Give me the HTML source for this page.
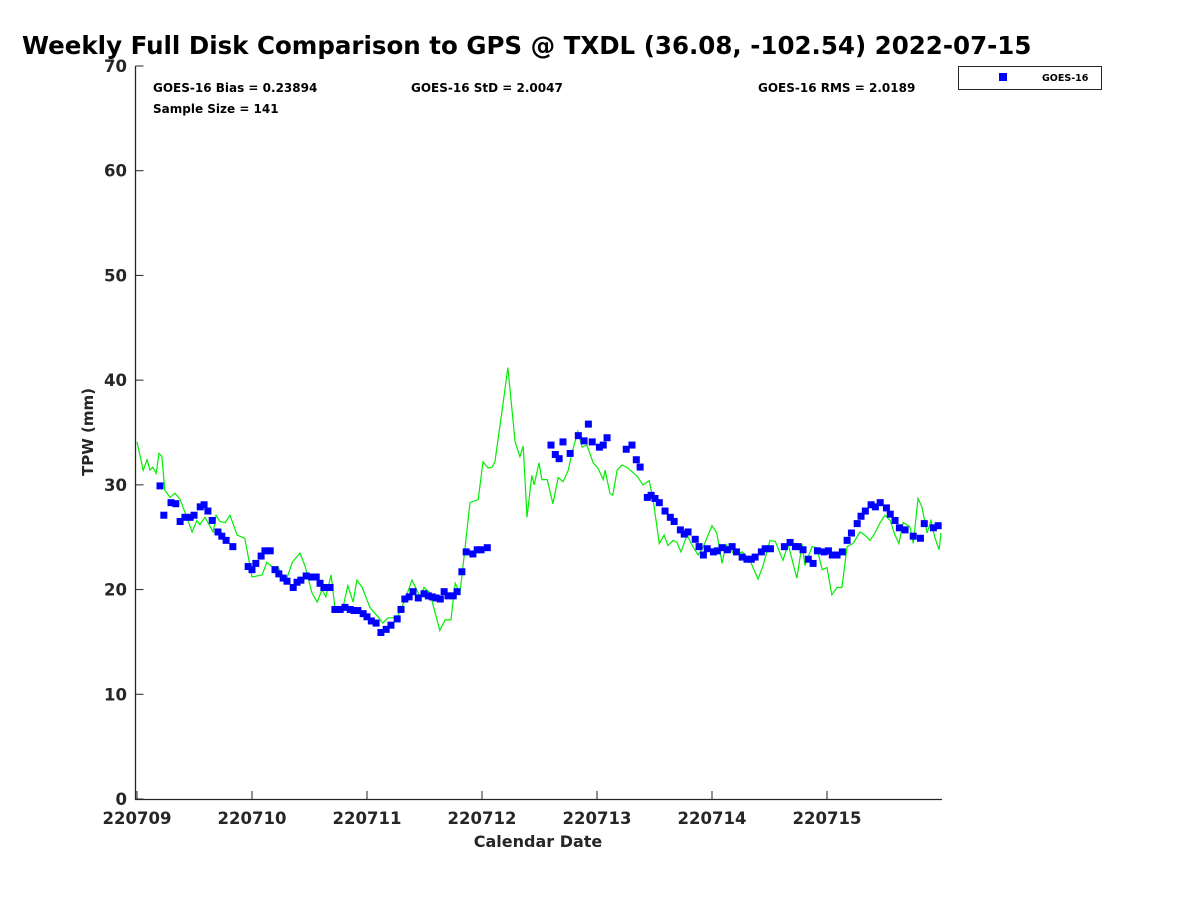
<!DOCTYPE html>
<html><head><meta charset="utf-8"><style>
body{margin:0;background:#fff;}
svg{display:block;font-family:"DejaVu Sans","Liberation Sans",sans-serif;font-weight:bold;}
</style></head><body>
<svg id="chart" width="1200" height="900" viewBox="0 0 1200 900">
<text x="22" y="54" font-size="24.5" fill="#000">Weekly Full Disk Comparison to GPS @ TXDL (36.08, -102.54) 2022-07-15</text>
<text x="153" y="92" font-size="12" fill="#000">GOES-16 Bias = 0.23894</text>
<text x="411" y="92" font-size="12" fill="#000">GOES-16 StD = 2.0047</text>
<text x="758" y="92" font-size="12" fill="#000">GOES-16 RMS = 2.0189</text>
<text x="153" y="113" font-size="12" fill="#000">Sample Size = 141</text>
<g>
<rect x="958.5" y="66.5" width="143" height="23" fill="#fff" stroke="#262626" stroke-width="1"/>
<rect x="999" y="73" width="8" height="8" fill="#0000ff"/>
<text x="1042" y="81" font-size="9.5" fill="#000">GOES-16</text>
</g>
<text transform="translate(93,432) rotate(-90)" text-anchor="middle" font-size="15" fill="#262626">TPW (mm)</text>
<text x="538" y="847" text-anchor="middle" font-size="16" fill="#262626">Calendar Date</text>
<g id="axes"></g>
<g id="marks"></g>
</svg>
<script>
// GPS (green line): hours since 220709 00Z, TPW mm
const gpsHours = [0,1.3,2.1,2.7,3.3,4.0,4.6,5.2,5.8,6.9,7.9,9.0,10.4,11.5,12.5,13.1,14.2,14.8,15.9,16.5,17.3,18.4,19.4,20.9,22.5,24.0,26.1,27.1,28.4,29.4,30.9,32.4,34.0,35.1,36.5,37.6,38.6,39.4,40.5,41.3,42.8,44.0,45.1,45.9,47.0,48.6,50.3,51.3,52.4,54.3,55.9,57.4,59.1,59.9,61.1,62.6,63.2,64.3,65.5,66.4,67.4,68.5,69.5,71.2,72.2,73.3,74.1,74.7,76.2,77.4,78.9,79.9,80.6,81.4,82.4,82.9,83.9,84.5,85.6,86.8,87.9,88.9,90.0,90.8,92.0,92.9,93.9,95.2,96.2,97.3,97.7,98.7,99.3,100.2,101.2,102.5,104.4,105.6,106.9,107.7,109.0,110.0,110.8,111.9,112.7,113.5,114.8,116.0,117.1,118.1,120.0,121.0,122.1,122.9,124.8,126.3,127.9,129.6,130.6,132.1,133.2,134.8,135.9,137.7,138.8,139.4,140.9,141.9,143.0,144.0,145.0,146.1,147.1,148.2,149.4,150.9,151.9,153.0,154.0,155.1,156.1,157.2,158.2,159.0,159.9,161.3,162.0,163.0,163.8,164.9,165.7,166.5,167.4,167.8];
const gpsValues = [34.1,31.4,32.4,31.4,31.7,31.1,33.0,32.7,29.5,28.8,29.2,28.6,26.9,25.5,26.6,26.2,26.9,26.4,25.5,27.1,26.5,26.4,27.1,25.2,24.9,21.2,21.4,22.6,22.1,22.2,20.6,22.6,23.5,22.2,19.7,18.8,20.0,19.3,21.4,18.3,17.9,20.4,18.8,20.9,20.2,18.3,17.4,16.8,17.3,17.3,19.0,20.9,19.3,20.2,19.7,17.1,16.1,17.1,17.1,20.6,19.7,24.1,28.3,28.6,32.2,31.6,31.7,32.2,37.1,41.2,34.1,32.7,33.7,26.9,30.9,30.0,32.1,30.5,30.5,28.2,30.7,30.3,31.4,33.1,35.1,33.6,33.8,32.1,31.6,30.5,31.4,29.2,29.0,31.4,31.9,31.6,30.8,30.0,30.4,28.6,24.4,25.2,24.2,24.7,24.5,23.6,25.2,24.1,23.3,24.0,26.1,25.4,22.5,24.3,23.3,23.6,22.8,21.0,22.2,24.7,24.6,22.8,24.3,21.1,24.3,22.3,24.1,24.0,21.9,22.1,19.5,20.2,20.2,24.1,24.4,25.5,25.2,24.7,25.4,26.4,27.1,26.6,25.2,24.4,26.4,26.0,24.4,28.7,27.9,25.4,26.6,25.0,23.8,25.4];
// GOES-16 (blue squares)
const goesHours = [4.8,5.6,7.1,8.1,9.0,10.0,11.1,11.9,13.2,14.0,14.8,15.7,16.9,17.7,18.6,20.0,23.2,24.0,24.8,25.9,26.7,27.8,28.8,29.6,30.5,31.3,32.6,33.4,34.2,35.3,36.5,37.4,38.2,39.0,40.3,41.3,42.4,43.4,44.5,45.3,46.1,47.2,48.0,48.9,49.9,50.9,52.0,53.0,54.3,55.1,55.9,56.8,57.6,58.7,59.9,60.8,61.6,62.4,63.3,64.1,64.9,66.0,66.8,67.8,68.7,70.1,71.0,71.8,73.1,
86.4,87.3,88.1,88.9,90.4,92.1,93.3,94.2,95.0,96.5,97.3,98.1,102.1,103.3,104.2,105.0,106.5,107.3,108.1,109.0,110.2,111.3,112.1,113.4,114.2,115.0,116.5,117.3,118.2,119.0,120.3,121.1,122.1,123.2,124.2,125.1,126.3,127.3,128.2,129.0,130.3,131.1,132.2,135.1,136.3,137.4,138.0,139.0,140.1,141.1,142.0,143.4,144.3,145.1,146.1,147.2,148.2,149.1,150.3,151.1,152.0,153.2,154.1,155.1,156.4,157.2,158.2,159.1,160.3,162.0,163.5,164.3,166.2,167.2];
const goesValues = [29.9,27.1,28.3,28.2,26.5,26.9,26.9,27.1,27.9,28.1,27.5,26.6,25.5,25.1,24.7,24.1,22.2,21.9,22.5,23.2,23.7,23.7,21.9,21.5,21.1,20.8,20.2,20.7,20.9,21.3,21.2,21.2,20.6,20.2,20.2,18.1,18.1,18.3,18.1,18.0,18.0,17.7,17.4,17.0,16.8,15.9,16.2,16.6,17.2,18.1,19.1,19.3,19.8,19.2,19.6,19.4,19.3,19.2,19.1,19.8,19.4,19.4,19.8,21.7,23.6,23.4,23.8,23.8,24.0,
33.8,32.9,32.5,34.1,33.0,34.7,34.2,35.8,34.1,33.6,33.8,34.5,33.4,33.8,32.4,31.7,28.8,29.0,28.7,28.3,27.5,26.9,26.5,25.7,25.3,25.5,24.8,24.1,23.3,23.9,23.6,23.7,24.0,23.8,24.1,23.6,23.1,22.9,22.9,23.1,23.6,23.9,23.9,24.1,24.5,24.1,24.1,23.8,22.9,22.5,23.7,23.6,23.7,23.3,23.3,23.6,24.7,25.4,26.3,27.0,27.5,28.1,27.9,28.3,27.8,27.2,26.6,25.9,25.7,25.1,24.9,26.3,25.9,26.1];
const yTicks = [0,10,20,30,40,50,60,70];
const xTickLabels = ["220709","220710","220711","220712","220713","220714","220715"];

const NS = "http://www.w3.org/2000/svg";
const X0 = 137, X1 = 942, Y0 = 799, Y1 = 66;
const xScale = h => X0 + (h / 168) * (X1 - X0);
const yScale = v => Y0 - (v / 70) * (Y0 - Y1);
function mk(tag, attrs, parent) {
  const e = document.createElementNS(NS, tag);
  for (const k in attrs) e.setAttribute(k, attrs[k]);
  parent.appendChild(e);
  return e;
}
const axes = document.getElementById("axes");
const marks = document.getElementById("marks");
const yAxis = mk("line", {x1: 135.5, y1: Y1, x2: 135.5, y2: Y0 + 0.5, stroke: "#262626", "stroke-width": 1.3}, axes);


const xAxis = mk("line", {x1: 135, y1: Y0 + 0.5, x2: X1, y2: Y0 + 0.5, stroke: "#262626", "stroke-width": 1.3}, axes);


yTicks.forEach(v => {
  const y = yScale(v);
  const t = mk("line", {x1: 135.5, y1: y, x2: 143.5, y2: y, stroke: "#262626", "stroke-width": 1}, axes);
  
  
  const l = mk("text", {x: 127, y: y + 6, "text-anchor": "end", "font-size": 16.5, fill: "#262626"}, axes);
  l.textContent = String(v);
  
  
});
xTickLabels.forEach((s, i) => {
  const x = xScale(i * 24);
  const t = mk("line", {x1: x, y1: Y0, x2: x, y2: Y0 - 8, stroke: "#262626", "stroke-width": 1}, axes);
  
  
  const l = mk("text", {x: x, y: 824, "text-anchor": "middle", "font-size": 16.5, fill: "#262626"}, axes);
  l.textContent = s;
  
  
});
const pts = gpsHours.map((h, i) => xScale(h).toFixed(1) + "," + yScale(gpsValues[i]).toFixed(1)).join(" ");
const gl = mk("polyline", {points: pts, fill: "none", stroke: "#00ee00", "stroke-width": 1.2}, marks);


goesHours.forEach((h, i) => {
  const r = mk("rect", {x: xScale(h) - 3.5, y: yScale(goesValues[i]) - 3.5, width: 7, height: 7, fill: "#0000ff"}, marks);
  
  
});
</script>
</body></html>
